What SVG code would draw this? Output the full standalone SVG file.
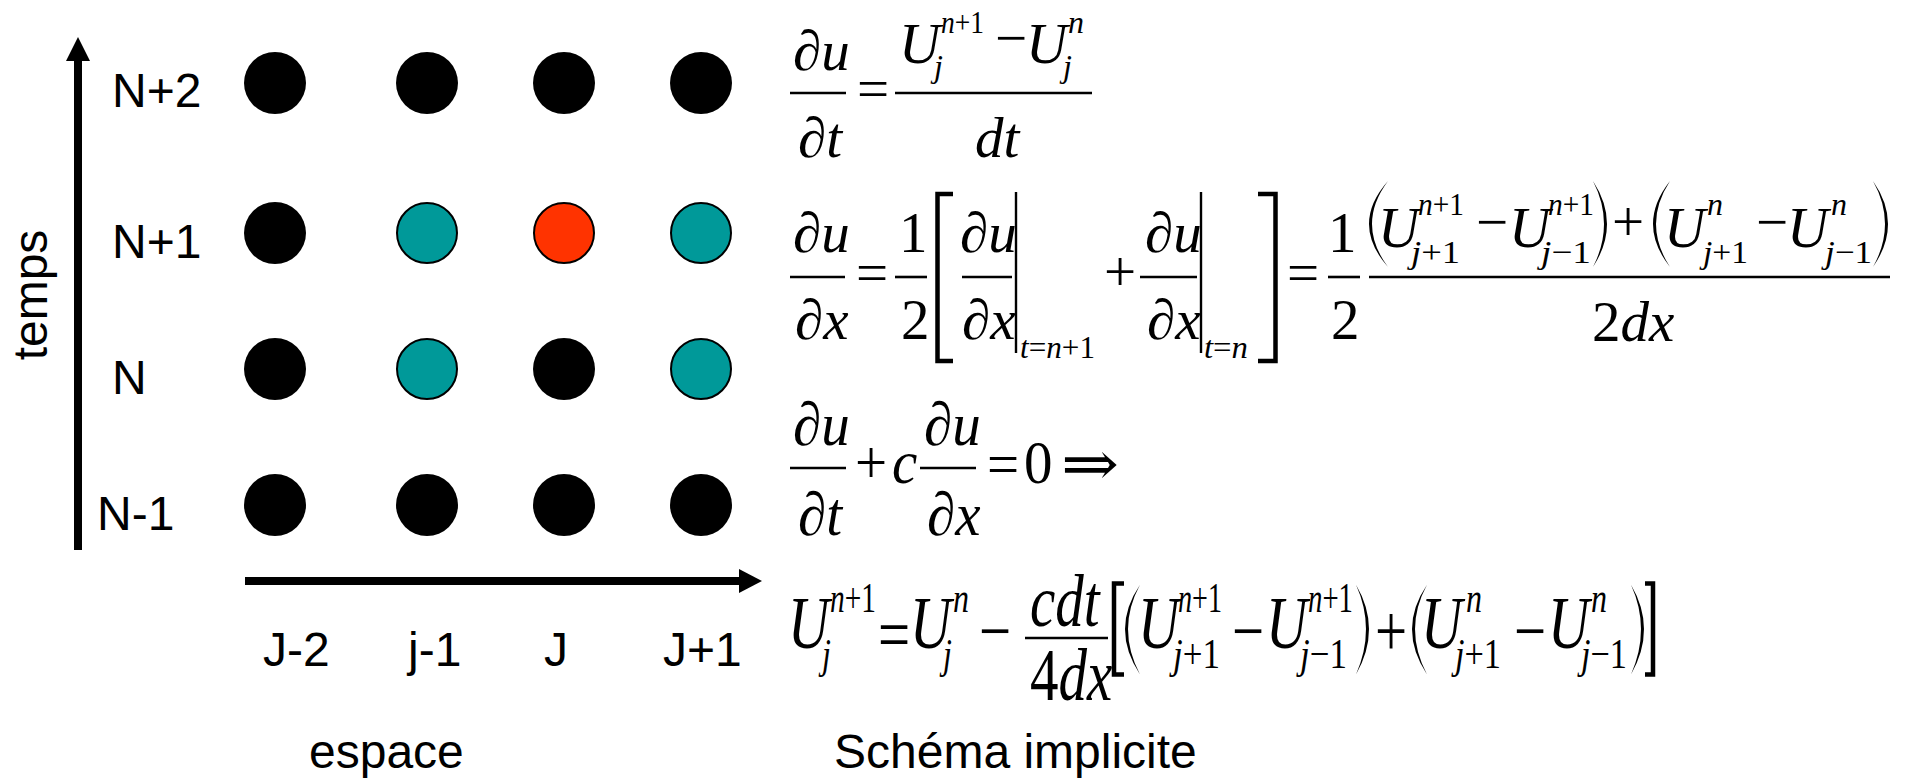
<svg xmlns="http://www.w3.org/2000/svg" width="1910" height="784" viewBox="0 0 1910 784">
<style>
.lab{font-family:"Liberation Sans",Arial,sans-serif;font-size:48px;fill:#000}
.m{font-family:"Liberation Serif","Times New Roman","DejaVu Serif",serif;font-size:57px;fill:#000}
.s{font-size:32px}
.ss{font-size:31px}
.i{font-style:italic}
.bar{stroke:#000;stroke-width:2.6}
.br{fill:none;stroke:#000;stroke-width:4.5}
.vb{stroke:#000;stroke-width:2.4}
.pa{fill:#000}
.blk{fill:#000}
.teal{fill:#009999;stroke:#000;stroke-width:2}
.red{fill:#FF3300;stroke:#000;stroke-width:2}
</style>
<rect width="1910" height="784" fill="#fff"/>
<g id="connectors">
<line x1="78" y1="550" x2="78" y2="58" stroke="#000" stroke-width="8"/>
<polygon points="78,37 66,61 90,61" fill="#000"/>
<line x1="245" y1="581" x2="742" y2="581" stroke="#000" stroke-width="8"/>
<polygon points="762,581 739,569 739,593" fill="#000"/>
</g>
<g id="axis-labels">
<text class="lab" text-anchor="middle" transform="translate(47,295) rotate(-90)">temps</text>
<text class="lab" x="112" y="107">N+2</text>
<text class="lab" x="112" y="258">N+1</text>
<text class="lab" x="112" y="394">N</text>
<text class="lab" x="97" y="530">N-1</text>
<text class="lab" x="263" y="666">J-2</text>
<text class="lab" x="408" y="666">j-1</text>
<text class="lab" x="544" y="666">J</text>
<text class="lab" x="663" y="666">J+1</text>
<text class="lab" x="309" y="768">espace</text>
<text class="lab" x="834" y="768">Schéma implicite</text>
</g>
<g id="grid">
<g id="p-jm2-n2"><circle class="blk" cx="275" cy="83" r="31"/></g>
<g id="p-jm1-n2"><circle class="blk" cx="427" cy="83" r="31"/></g>
<g id="p-j-n2"><circle class="blk" cx="564" cy="83" r="31"/></g>
<g id="p-jp1-n2"><circle class="blk" cx="701" cy="83" r="31"/></g>
<g id="p-jm2-n1"><circle class="blk" cx="275" cy="233" r="31"/></g>
<g id="p-jm1-n1"><circle class="teal" cx="427" cy="233" r="30"/></g>
<g id="p-j-n1"><circle class="red" cx="564" cy="233" r="30"/></g>
<g id="p-jp1-n1"><circle class="teal" cx="701" cy="233" r="30"/></g>
<g id="p-jm2-n"><circle class="blk" cx="275" cy="369" r="31"/></g>
<g id="p-jm1-n"><circle class="teal" cx="427" cy="369" r="30"/></g>
<g id="p-j-n"><circle class="blk" cx="564" cy="369" r="31"/></g>
<g id="p-jp1-n"><circle class="teal" cx="701" cy="369" r="30"/></g>
<g id="p-jm2-nm1"><circle class="blk" cx="275" cy="505" r="31"/></g>
<g id="p-jm1-nm1"><circle class="blk" cx="427" cy="505" r="31"/></g>
<g id="p-j-nm1"><circle class="blk" cx="564" cy="505" r="31"/></g>
<g id="p-jp1-nm1"><circle class="blk" cx="701" cy="505" r="31"/></g>
</g>
<g id="eq1">
<text class="m i" x="793" y="70">∂u</text>
<line class="bar" x1="790" y1="93" x2="846" y2="93"/>
<text class="m i" x="798" y="157">∂t</text>
<text class="m" x="857" y="108">=</text>
<line class="bar" x1="895" y1="93" x2="1092" y2="93"/>
<text class="m i" x="899" y="63">U</text>
<text class="m s" x="941" y="33" textLength="43" lengthAdjust="spacingAndGlyphs"><tspan class="i">n</tspan>+1</text>
<text class="m s i" x="934" y="77">j</text>
<text class="m" x="995" y="57">−</text>
<text class="m i" x="1026" y="63">U</text>
<text class="m s i" x="1068" y="33">n</text>
<text class="m s i" x="1063" y="77">j</text>
<text class="m i" x="975" y="157">dt</text>
</g>
<g id="eq2">
<text class="m i" x="793" y="252">∂u</text>
<line class="bar" x1="790" y1="277" x2="845" y2="277"/>
<text class="m i" x="795" y="339">∂x</text>
<text class="m" x="856" y="292">=</text>
<text class="m" x="899" y="252">1</text>
<line class="bar" x1="895" y1="277" x2="927" y2="277"/>
<text class="m" x="901" y="339">2</text>
<path class="br" d="M953,194 H937.5 V361 H953"/>
<text class="m i" x="960" y="252">∂u</text>
<line class="bar" x1="962" y1="277" x2="1012" y2="277"/>
<text class="m i" x="962" y="339">∂x</text>
<line class="vb" x1="1016" y1="192" x2="1016" y2="353"/>
<text class="m ss" x="1020" y="358" textLength="75" lengthAdjust="spacingAndGlyphs"><tspan class="i">t</tspan>=<tspan class="i">n</tspan>+1</text>
<text class="m" x="1104" y="291">+</text>
<text class="m i" x="1145" y="252">∂u</text>
<line class="bar" x1="1140" y1="277" x2="1197" y2="277"/>
<text class="m i" x="1147" y="339">∂x</text>
<line class="vb" x1="1201" y1="192" x2="1201" y2="353"/>
<text class="m ss" x="1204" y="358" textLength="44" lengthAdjust="spacingAndGlyphs"><tspan class="i">t</tspan>=<tspan class="i">n</tspan></text>
<path class="br" d="M1258,194 H1275.5 V361 H1258"/>
<text class="m" x="1287" y="292">=</text>
<text class="m" x="1328" y="252">1</text>
<line class="bar" x1="1328" y1="277" x2="1360" y2="277"/>
<text class="m" x="1331" y="339">2</text>
<line class="bar" x1="1369" y1="277" x2="1890" y2="277"/>
<path class="pa" d="M1388,181 Q1350,224 1388,267 Q1356,224 1388,181 Z"/>
<text class="m i" x="1378" y="247">U</text>
<text class="m s" x="1418" y="215" textLength="46" lengthAdjust="spacingAndGlyphs"><tspan class="i">n</tspan>+1</text>
<text class="m s" x="1411" y="263" textLength="49" lengthAdjust="spacingAndGlyphs"><tspan class="i">j</tspan>+1</text>
<text class="m" x="1476" y="241">−</text>
<text class="m i" x="1509" y="247">U</text>
<text class="m s" x="1548" y="215" textLength="46" lengthAdjust="spacingAndGlyphs"><tspan class="i">n</tspan>+1</text>
<text class="m s" x="1541" y="263" textLength="50" lengthAdjust="spacingAndGlyphs"><tspan class="i">j</tspan>−1</text>
<path class="pa" d="M1593,181 Q1621,224 1593,267 Q1615,224 1593,181 Z"/>
<text class="m" x="1612" y="241">+</text>
<path class="pa" d="M1670,181 Q1636,224 1670,267 Q1642,224 1670,181 Z"/>
<text class="m i" x="1664" y="247">U</text>
<text class="m s i" x="1707" y="215">n</text>
<text class="m s" x="1703" y="263" textLength="45" lengthAdjust="spacingAndGlyphs"><tspan class="i">j</tspan>+1</text>
<text class="m" x="1756" y="241">−</text>
<text class="m i" x="1787" y="247">U</text>
<text class="m s i" x="1831" y="215">n</text>
<text class="m s" x="1825" y="263" textLength="47" lengthAdjust="spacingAndGlyphs"><tspan class="i">j</tspan>−1</text>
<path class="pa" d="M1873,181 Q1903,224 1873,267 Q1897,224 1873,181 Z"/>
<text class="m" x="1592" y="341">2<tspan class="i">dx</tspan></text>
</g>
<g id="eq3" transform="translate(0,468) scale(1,1.08) translate(0,-468)">
<text class="m i" x="793" y="447">∂u</text>
<line class="bar" x1="790" y1="468" x2="846" y2="468" vector-effect="non-scaling-stroke"/>
<text class="m i" x="798" y="530">∂t</text>
<text class="m" x="855" y="482">+</text>
<text class="m i" x="892" y="482">c</text>
<line class="bar" x1="920" y1="468" x2="976" y2="468" vector-effect="non-scaling-stroke"/>
<text class="m i" x="924" y="447">∂u</text>
<text class="m i" x="927" y="530">∂x</text>
<text class="m" x="987" y="484">=</text>
<text class="m" x="1024" y="482">0</text>
<text class="m" x="1061" y="484" textLength="58" lengthAdjust="spacingAndGlyphs">⇒</text>
</g>
<g id="eq4" transform="translate(0,638) scale(1,1.3) translate(0,-638)">
<text class="m i" x="788" y="646">U</text>
<text class="m s" x="830" y="618" textLength="46" lengthAdjust="spacingAndGlyphs"><tspan class="i">n</tspan>+1</text>
<text class="m s i" x="822" y="661">j</text>
<text class="m" x="878" y="654">=</text>
<text class="m i" x="910" y="646">U</text>
<text class="m s i" x="953" y="618">n</text>
<text class="m s i" x="943" y="661">j</text>
<text class="m" x="979" y="652">−</text>
<line class="bar" x1="1025" y1="638" x2="1108" y2="638" vector-effect="non-scaling-stroke"/>
<text class="m i" x="1030" y="629">cdt</text>
<text class="m" x="1030" y="686">4<tspan class="i">dx</tspan></text>
<path class="br" d="M1124,596 H1114 V666 H1124" vector-effect="non-scaling-stroke"/>
<path class="pa" d="M1140,597 Q1110,631 1140,666 Q1116,631 1140,597 Z"/>
<text class="m i" x="1138" y="646">U</text>
<text class="m s" x="1178" y="618" textLength="44" lengthAdjust="spacingAndGlyphs"><tspan class="i">n</tspan>+1</text>
<text class="m s" x="1173" y="661" textLength="47" lengthAdjust="spacingAndGlyphs"><tspan class="i">j</tspan>+1</text>
<text class="m" x="1232" y="652">−</text>
<text class="m i" x="1266" y="646">U</text>
<text class="m s" x="1308" y="618" textLength="45" lengthAdjust="spacingAndGlyphs"><tspan class="i">n</tspan>+1</text>
<text class="m s" x="1300" y="661" textLength="47" lengthAdjust="spacingAndGlyphs"><tspan class="i">j</tspan>−1</text>
<path class="pa" d="M1356,597 Q1382,631 1356,666 Q1376,631 1356,597 Z"/>
<text class="m" x="1375" y="652">+</text>
<path class="pa" d="M1427,597 Q1397,631 1427,666 Q1403,631 1427,597 Z"/>
<text class="m i" x="1421" y="646">U</text>
<text class="m s i" x="1466" y="618">n</text>
<text class="m s" x="1455" y="661" textLength="46" lengthAdjust="spacingAndGlyphs"><tspan class="i">j</tspan>+1</text>
<text class="m" x="1514" y="652">−</text>
<text class="m i" x="1548" y="646">U</text>
<text class="m s i" x="1591" y="618">n</text>
<text class="m s" x="1581" y="661" textLength="46" lengthAdjust="spacingAndGlyphs"><tspan class="i">j</tspan>−1</text>
<path class="pa" d="M1631,597 Q1657,631 1631,666 Q1651,631 1631,597 Z"/>
<path class="br" d="M1645,596 H1653 V666 H1645" vector-effect="non-scaling-stroke"/>
</g>
</svg>
